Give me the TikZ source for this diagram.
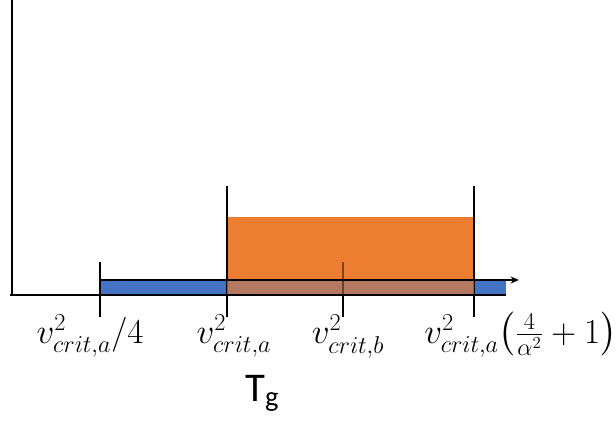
\documentclass[tikz,border=0pt]{standalone}
\usepackage{amsmath,amssymb}
\usepackage{fontspec}
\newfontfamily\carlito{Carlito}
\usepackage{tikz}
\usetikzlibrary{arrows.meta, positioning}

\definecolor{barblue}{RGB}{68,114,196}
\definecolor{barorange}{RGB}{237,125,49}
\definecolor{baroverlap}{RGB}{180,118,96}

\tikzset{
	tickline/.style={black, line width=0.85pt},
	ticklabel/.style={anchor=base, inner sep=0pt, font=\fontsize{26}{30}\selectfont},
}

\begin{document}
\begin{tikzpicture}[x=0.025cm, y=-0.025cm]
			\useasboundingbox (0,0) rectangle (616,423);
			
			% Punkte auf der Achse
			\coordinate (t1) at (100,295);
			\coordinate (t2) at (227,295);
			\coordinate (t3) at (343,295);
			\coordinate (t4) at (474,295);
			\coordinate (ende) at (506,295);
			\coordinate (spitze) at (519,280);
			
			% Balken
			\fill[barblue] (100,280) rectangle (ende);
			\fill[barorange] (227,217) rectangle (474,280);
			
			% Striche
			\draw[tickline] (100,262) -- (100,317);
			\draw[tickline] (227,186) -- (227,317);
			\draw[tickline] (474,186) -- (474,317);
			\draw[tickline] (343,295) -- (343,317);
			\draw[tickline, black!45!barorange] (343,262) -- (343,280);
			
			% Achse
			\draw[line width=1.1pt, -{Stealth[length=6pt, width=5pt]}] (100,280) -- (spitze);
			\draw[line width=1.4pt] (10,295) -- (ende);
			\draw[line width=1.8pt] (12,0) -- (12,296);
			
			% Ueberlappung
			\fill[barorange, opacity=0.67] (227,280.6) rectangle (474,294.4);
			\draw[tickline, black!45!baroverlap] (343,280.6) -- (343,294.4);
			
			% Achsenbeschriftung x
			\node[ticklabel] (l1) at (90,343) {$v^2_{crit,a}/4$};
			\node[ticklabel] (l2) at (234,343) {$v^2_{crit,a}$};
			\node[ticklabel] (l3) at (348,343) {$v^2_{crit,b}$};
			\node[ticklabel, anchor=base west] (l4) at (424,343) {$v^2_{crit,a}\!\left(\frac{4}{\alpha^2}+1\right)$};
			\node[anchor=base west, inner sep=0pt, font=\carlito\fontsize{29}{33}\selectfont] (tg) at (245,401) {T$_{\text{g}}$};
		\end{tikzpicture}
\end{document}
